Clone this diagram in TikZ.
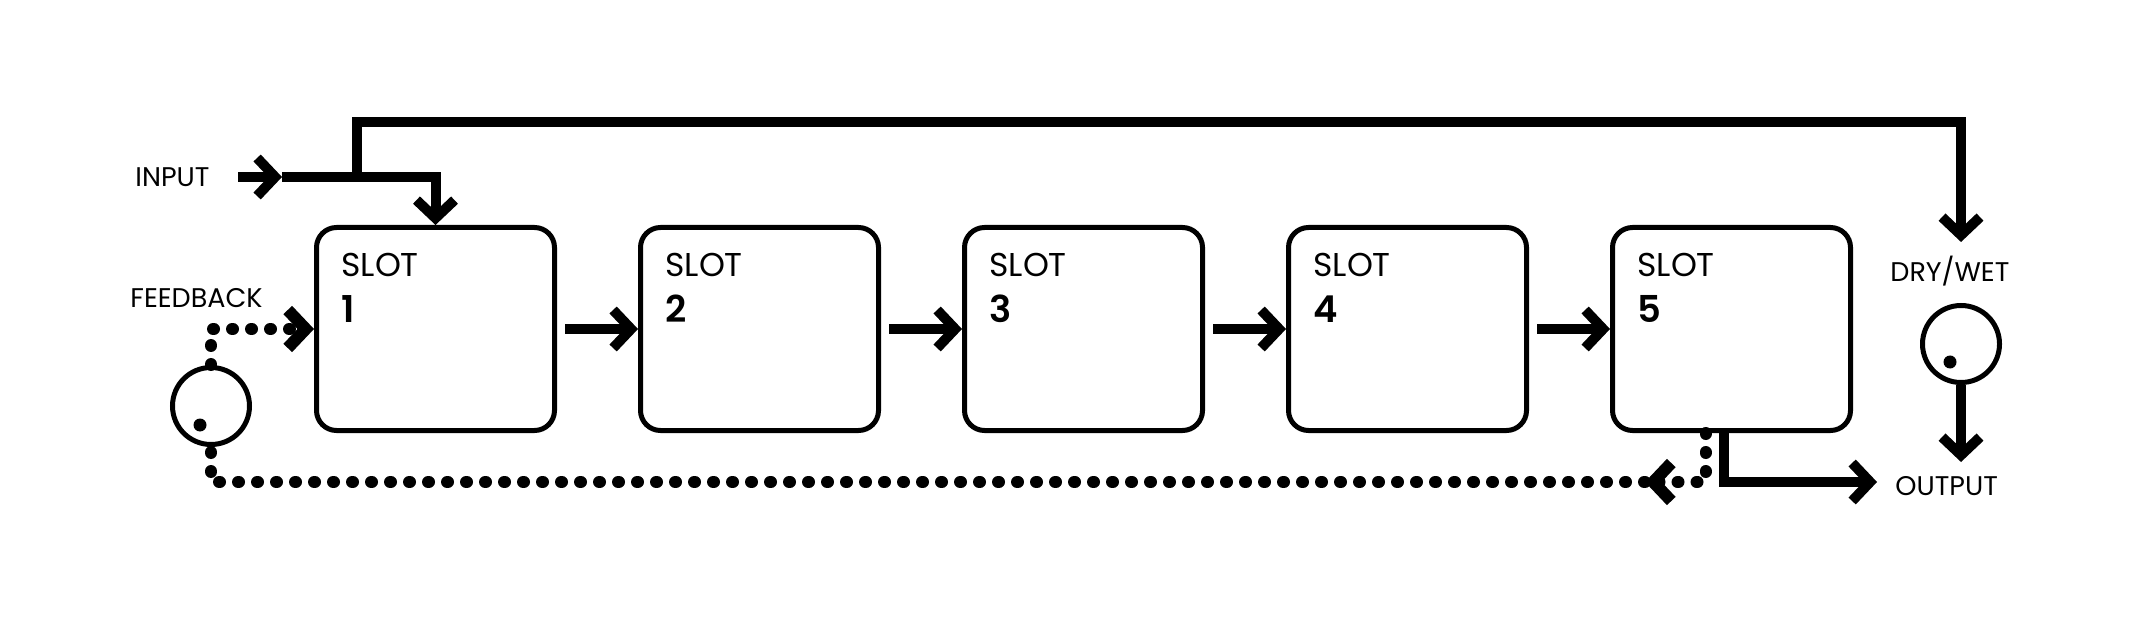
\documentclass[tikz,border=0pt]{standalone}
\usepackage{fontspec}
\setmainfont{Poppins}[BoldFont={Poppins SemiBold}]
\usetikzlibrary{arrows.meta,calc}
\begin{document}
\begin{tikzpicture}[x=0.5pt,y=-0.5pt,
  slot/.style={draw, line width=2.5pt, rounded corners=10pt, minimum width=119pt, minimum height=101.5pt, inner sep=0pt},
  knob/.style={draw, circle, line width=2.5pt, minimum size=38.5pt, inner sep=0pt},
  knobdot/.style={circle, fill, minimum size=6.5pt, inner sep=0pt},
  wire/.style={line width=5pt},
  fb/.style={line width=6pt, line cap=round, dash pattern=on 0.5pt off 9pt},
  tip/.style={-{Straight Barb[length=9pt,width=19pt]}},
  lbl/.style={font=\fontsize{13.5}{15}\selectfont, inner sep=0pt, anchor=base west},
  slottxt/.style={font=\fontsize{16.5}{18}\selectfont, inner sep=0pt, anchor=base west},
  numtxt/.style={font=\fontsize{18.5}{20}\selectfont\bfseries, inner sep=0pt, anchor=base west}
]
\useasboundingbox (0,0) rectangle (2134,625);

% slots
\foreach \i in {1,...,5} {
  \node[slot] (b\i) at ({435.5+324*(\i-1)},329) {};
  \node[slottxt] (s\i) at ($(b\i.north west)+(27,52)$) {SLOT};
  \node[numtxt] (n\i) at ($(b\i.north west)+(27,98)$) {\i};
}
\foreach \i/\j in {1/2,2/3,3/4,4/5} {
  \draw[wire,tip] ($(b\i.east)+(8,0)$) -- (b\j.west);
}

% labels
\node[lbl] (inl) at (135,187) {INPUT};
\node[lbl] (fbl) at (130,308) {FEEDBACK};
\node[lbl] (dwl) at (1890,282) {DRY/WET};
\node[lbl] (outl) at (1895,495) {OUTPUT};

% knobs
\node[knob] (k1) at (211,406) {};
\node[knobdot] (k1d) at ($(k1)+(-11,19)$) {};
\node[knob] (k2) at (1961,344) {};
\node[knobdot] (k2d) at ($(k2)+(-11,18)$) {};

% input
\coordinate (inS) at (238,177);
\coordinate (inA) at (282,177);
\coordinate (br) at (357,177);
\coordinate (tr) at (1961,122);
\coordinate (dwin) at (1961,242);
\draw[wire,tip] (inS) -- (inA);
\draw[wire,tip] (inA) -| (b1.north);
\draw[wire,tip] (br) |- (tr) -- (dwin);

% output
\coordinate (outin) at (1961,462);
\coordinate (o5) at (1877,482);
\draw[wire,tip] (k2.south) -- (outin);
\draw[wire,tip] ($(b5.south)+(-8,0)$) |- (o5);

% feedback
\coordinate (fa) at (1645,482);
\draw[fb,tip] ($(b5.south)+(-26,0)$) |- (fa);
\draw[fb] (fa) -| (k1.south);
\draw[fb,tip] (k1.north) |- (b1.west);
\end{tikzpicture}
\end{document}
